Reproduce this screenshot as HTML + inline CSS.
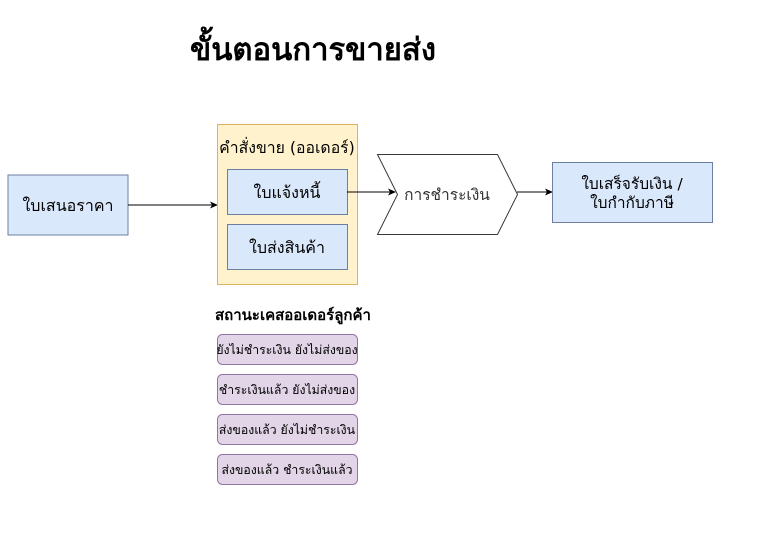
<!DOCTYPE html>
<html><head><meta charset="utf-8"><style>
body{margin:0;background:#fff;width:780px;height:548px;overflow:hidden;font-family:"DejaVu Sans","Liberation Sans",sans-serif;}
</style></head><body>
<svg width="780" height="548" xmlns="http://www.w3.org/2000/svg" font-family="DejaVu Sans, Liberation Sans, sans-serif">
<defs><marker id="a" markerWidth="8" markerHeight="8" refX="7" refY="4" orient="auto" markerUnits="userSpaceOnUse"><path d="M0,0.5 L8,4 L0,7.5 L2,4 Z" fill="#000"/></marker></defs>
<text x="313" y="60" font-size="31" font-weight="bold" text-anchor="middle">ขั้นตอนการขายส่ง</text>
<rect x="8" y="175" width="120" height="60" fill="#dae8fc" stroke="#6c7fa0"/>
<text x="68" y="211" font-size="16" text-anchor="middle">ใบเสนอราคา</text>
<line x1="128" y1="205" x2="217" y2="205" stroke="#000" marker-end="url(#a)"/>
<rect x="217.5" y="124.5" width="140" height="160" fill="#fff2cc" stroke="#d6b656"/>
<text x="287" y="153" font-size="15.8" text-anchor="middle">คำสั่งขาย (ออเดอร์)</text>
<rect x="227.5" y="169.5" width="120" height="45" fill="#dae8fc" stroke="#6c7fa0"/>
<text x="287" y="198" font-size="16" text-anchor="middle">ใบแจ้งหนี้</text>
<rect x="227.5" y="224.5" width="120" height="45" fill="#dae8fc" stroke="#6c7fa0"/>
<text x="287" y="253" font-size="16" text-anchor="middle">ใบส่งสินค้า</text>
<line x1="347" y1="192" x2="395" y2="192" stroke="#000" marker-end="url(#a)"/>
<path d="M377.5,154.5 L497.5,154.5 L517.5,194.5 L497.5,234.5 L377.5,234.5 L397.5,194.5 Z" fill="#fff" stroke="#36393d"/>
<text x="447" y="200" font-size="15.5" text-anchor="middle" fill="#333">การชำระเงิน</text>
<line x1="517" y1="192" x2="552" y2="192" stroke="#000" marker-end="url(#a)"/>
<rect x="552.5" y="162.5" width="160" height="60" fill="#dae8fc" stroke="#6c7fa0"/>
<text x="632" y="189" font-size="15.5" text-anchor="middle">ใบเสร็จรับเงิน /</text>
<text x="632" y="208" font-size="15.5" text-anchor="middle">ใบกำกับภาษี</text>
<text x="293" y="320" font-size="15" font-weight="bold" text-anchor="middle">สถานะเคสออเดอร์ลูกค้า</text>
<g font-size="12.3" text-anchor="middle">
<rect x="217.5" y="334.5" width="140" height="30" rx="5" fill="#e1d5e7" stroke="#9673a6"/>
<text x="287" y="354">ยังไม่ชำระเงิน ยังไม่ส่งของ</text>
<rect x="217.5" y="374.5" width="140" height="30" rx="5" fill="#e1d5e7" stroke="#9673a6"/>
<text x="287" y="394">ชำระเงินแล้ว ยังไม่ส่งของ</text>
<rect x="217.5" y="414.5" width="140" height="30" rx="5" fill="#e1d5e7" stroke="#9673a6"/>
<text x="287" y="434">ส่งของแล้ว ยังไม่ชำระเงิน</text>
<rect x="217.5" y="454.5" width="140" height="30" rx="5" fill="#e1d5e7" stroke="#9673a6"/>
<text x="287" y="474">ส่งของแล้ว ชำระเงินแล้ว</text>
</g>
</svg>
</body></html>
